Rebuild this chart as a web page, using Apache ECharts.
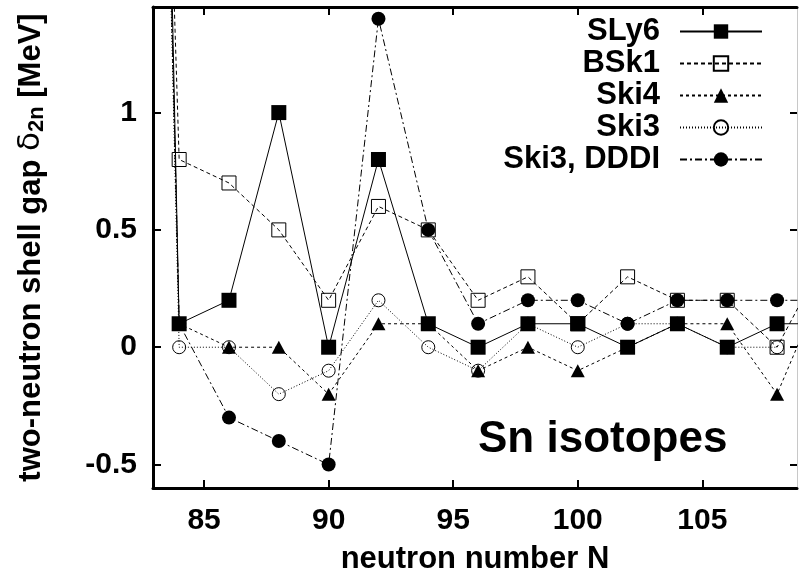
<!DOCTYPE html>
<html>
<head>
<meta charset="utf-8">
<script src="https://cdn.jsdelivr.net/npm/echarts@6/dist/echarts.min.js"></script>
<style>
  html, body { margin: 0; padding: 0; background: #fff; }
  #chart { width: 800px; height: 579px; }
</style>
</head>
<body>
<div id="chart"></div>
<script>
// Two-neutron shell gap of Sn isotopes for several Skyrme forces
const neutronNumbers = [82, 84, 86, 88, 90, 92, 94, 96, 98, 100, 102, 104, 106, 108, 110];
const sly6     = [10.0, 0.1,  0.2,  1.0,  0.0, 0.8, 0.1,  0.0, 0.1,  0.1, 0.0, 0.1, 0.0,  0.1, 0.1];
const bsk1     = [7.5,  0.8,  0.7,  0.5,  0.2, 0.6, 0.5,  0.2, 0.3,  0.1, 0.3, 0.2, 0.2,  0.0, 0.4];
const ski4     = [9.0,  0.1,  0.0,  0.0, -0.2, 0.1, 0.1, -0.1, 0.0, -0.1, 0.0, 0.1, 0.1, -0.2, 0.3];
const ski3     = [9.0,  0.0,  0.0, -0.2, -0.1, 0.2, 0.0, -0.1, 0.1,  0.0, 0.1, 0.1, 0.0,  0.0, null];
const ski3dddi = [9.0,  0.1, -0.3, -0.4, -0.5, 1.4, 0.5,  0.1, 0.2,  0.2, 0.1, 0.2, 0.2,  0.2, 0.2];

const xTicks = [85, 90, 95, 100, 105];
const yTicks = [-0.5, 0, 0.5, 1];

const FONT = 'Liberation Sans, Arial, Helvetica, sans-serif';
const pairs = ys => neutronNumbers.map((n, i) => [n, ys[i]]);

const hollow = { color: 'rgba(0,0,0,0)', borderColor: '#000', borderWidth: 1 };
const solid = { color: '#000', borderWidth: 0 };

function lineSeries(name, ys, symbol, size, itemStyle, dash) {
  return {
    name, type: 'line', data: pairs(ys),
    symbol, symbolSize: size,
    itemStyle,
    lineStyle: { color: '#000', width: 1, type: dash },
    clip: true,
    emphasis: { disabled: true }
  };
}

const chart = echarts.init(document.getElementById('chart'), null, { renderer: 'canvas' });

const axisFrame = { onZero: false, lineStyle: { color: '#000', width: 3 } };
const tickStyle = { width: 2, color: '#000' };

chart.setOption({
  animation: false,
  backgroundColor: '#fff',
  textStyle: { fontFamily: FONT },
  grid: { left: 153, right: 3, top: 7, bottom: 91, containLabel: false, outerBoundsMode: 'none' },
  xAxis: [
    {
      type: 'value', min: 82.95, max: 108.8, position: 'bottom',
      axisLine: axisFrame,
      axisTick: { show: true, inside: true, length: 8, customValues: xTicks, lineStyle: tickStyle },
      axisLabel: { customValues: xTicks, margin: 18, fontSize: 30, fontWeight: 'bold', color: '#000', fontFamily: FONT },
      splitLine: { show: false },
      name: 'neutron number N', nameLocation: 'middle', nameGap: 56,
      nameTextStyle: { fontSize: 31, fontWeight: 'bold', color: '#000', fontFamily: FONT }
    },
    {
      type: 'value', min: 82.95, max: 108.8, position: 'top',
      axisLine: axisFrame,
      axisTick: { show: true, inside: true, length: 8, customValues: xTicks, lineStyle: tickStyle },
      axisLabel: { show: false },
      splitLine: { show: false }
    }
  ],
  yAxis: [
    {
      type: 'value', min: -0.6, max: 1.45, position: 'left',
      axisLine: axisFrame,
      axisTick: { show: true, inside: true, length: 8, customValues: yTicks, lineStyle: tickStyle },
      axisLabel: { customValues: yTicks, margin: 16, fontSize: 30, fontWeight: 'bold', color: '#000', fontFamily: FONT,
                   formatter: v => String(v) },
      splitLine: { show: false },
      name: '{t|two-neutron shell gap }{d|δ}{s|2n}{t| [MeV]}',
      nameLocation: 'middle', nameGap: 105,
      nameTextStyle: {
        color: '#000', fontFamily: FONT,
        rich: {
          t: { fontSize: 31, fontWeight: 'bold', color: '#000', fontFamily: FONT },
          d: { fontSize: 31, fontWeight: 'normal', color: '#000', fontFamily: 'DejaVu Sans, sans-serif' },
          s: { fontSize: 22, fontWeight: 'bold', color: '#000', fontFamily: FONT, padding: [12, 0, 0, 0] }
        }
      }
    },
    {
      type: 'value', min: -0.6, max: 1.45, position: 'right',
      axisLine: { show: true, onZero: false, lineStyle: { color: '#c8c8c8', width: 1 } },
      axisTick: { show: true, inside: true, length: 7, customValues: yTicks, lineStyle: tickStyle },
      axisLabel: { show: false },
      splitLine: { show: false }
    }
  ],
  legend: {
    orient: 'vertical', align: 'right',
    right: 37, top: 16, padding: 0,
    itemWidth: 82, itemHeight: 18, itemGap: 1,
    textStyle: { fontSize: 31, fontWeight: 'bold', color: '#000', fontFamily: FONT, lineHeight: 30, padding: [0, 15, 0, 0] },
    selectedMode: false,
    data: ['SLy6', 'BSk1', 'Ski4', 'Ski3', 'Ski3, DDDI']
  },
  graphic: [
    {
      type: 'text', left: 478, top: 418, silent: true,
      style: { text: 'Sn isotopes', font: 'bold 44px ' + FONT, fill: '#000' }
    }
  ],
  series: [
    lineSeries('SLy6', sly6, 'rect', 15, solid, 'solid'),
    lineSeries('BSk1', bsk1, 'rect', 14, hollow, [4, 3]),
    lineSeries('Ski4', ski4, 'triangle', [14, 13], solid, [3, 3]),
    lineSeries('Ski3', ski3, 'circle', 13, hollow, [1, 2]),
    lineSeries('Ski3, DDDI', ski3dddi, 'circle', 14, solid, [7, 3, 2, 3])
  ]
});
</script>
</body>
</html>
